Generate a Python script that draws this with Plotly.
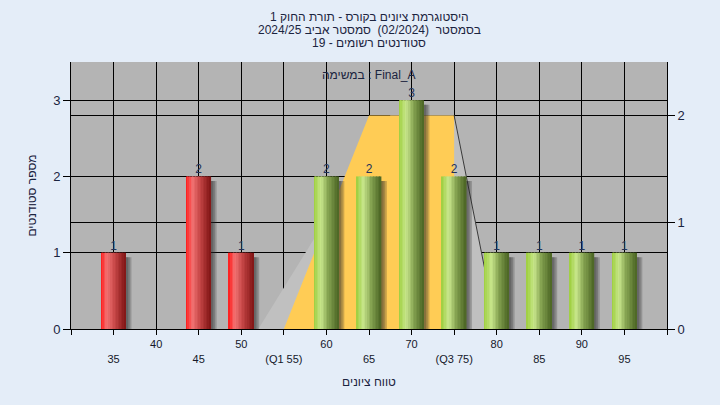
import plotly.graph_objects as go

# ---------------- data ----------------
grades = [35, 45, 50, 60, 65, 70, 75, 80, 85, 90, 95]
counts = [1, 2, 1, 2, 2, 3, 2, 1, 1, 1, 1]
pass_grade = 55

tick_vals = [30, 35, 40, 45, 50, 55, 60, 65, 70, 75, 80, 85, 90, 95, 100]
tick_text = ["", "<br>35", "40", "<br>45", "50", "<br>(Q1 55)", "60", "<br>65",
             "70", "<br>(Q3 75)", "80", "<br>85", "90", "<br>95", ""]

left_ticks = [0, 1, 2, 3]
right_ticks = [0, 1, 2]

# distribution areas (right axis scale)
spread_x = [52, 67.5, 75, 80]
spread_y = [0, 2, 2, 0]
iqr_x = [55, 65, 75, 75]
iqr_y = [0, 2, 2, 0]
edge_x = [75, 80]
edge_y = [2, 0]

title_lines = [
    "היסטוגרמת ציונים בקורס - תורת החוק 1",
    "בסמסטר  (02/2024)  סמסטר אביב 2024/25",
    "סטודנטים רשומים - 19",
]
task_label = "במשימה : Final_A"
x_title = "טווח ציונים"
y_title = "מספר סטודנטים"

# ---------------- style ----------------
FONT = "Liberation Sans, Arial, DejaVu Sans, sans-serif"
TXT = "#1b2440"
BAR_W = 2.9
N_SLICES = 16

red_stops = [(0.0, (255, 22, 22)), (0.25, (242, 116, 116)), (0.55, (200, 72, 72)), (1.0, (128, 20, 20))]
green_stops = [(0.0, (156, 206, 60)), (0.3, (200, 230, 140)), (0.6, (132, 162, 80)), (1.0, (74, 100, 36))]


def interp(stops, t):
    for (t0, c0), (t1, c1) in zip(stops[:-1], stops[1:]):
        if t0 <= t <= t1:
            f = (t - t0) / (t1 - t0)
            c = [round(a + (b - a) * f) for a, b in zip(c0, c1)]
            return "rgb(%d,%d,%d)" % tuple(c)
    return "rgb(%d,%d,%d)" % stops[-1][1]


fig = go.Figure()

# areas on the main (right) axis -> drawn beneath the bars
fig.add_trace(go.Scatter(x=spread_x, y=spread_y, fill="toself", mode="none",
                         fillcolor="#c0c0c0", yaxis="y", hoverinfo="skip", showlegend=False))
fig.add_trace(go.Scatter(x=iqr_x, y=iqr_y, fill="toself", mode="none",
                         fillcolor="#ffcc55", yaxis="y", hoverinfo="skip", showlegend=False))
fig.add_trace(go.Scatter(x=edge_x, y=edge_y, mode="lines", line=dict(color="#3a3a3a", width=1),
                         yaxis="y", hoverinfo="skip", showlegend=False))

# shadows
shadow_y = [c - 0.06 for c in counts]
for s in [0.25, 0.45, 0.65]:
    fig.add_trace(go.Bar(x=grades, y=shadow_y, width=BAR_W, offset=-BAR_W / 2 + s,
                         marker=dict(color="rgba(40,40,40,0.24)", line=dict(width=0)),
                         yaxis="y2", hoverinfo="skip", showlegend=False))

# gradient bars made from vertical slices
sw = BAR_W / N_SLICES
for i in range(N_SLICES):
    t = (i + 0.5) / N_SLICES
    cols = [interp(red_stops, t) if g < pass_grade else interp(green_stops, t) for g in grades]
    fig.add_trace(go.Bar(x=grades, y=counts, width=sw * 1.02, offset=-BAR_W / 2 + i * sw,
                         marker=dict(color=cols, line=dict(width=0)),
                         yaxis="y2", hoverinfo="skip", showlegend=False))

# value labels
fig.add_trace(go.Scatter(x=grades, y=counts, mode="text", text=[str(c) for c in counts],
                         textposition="top center", marker=dict(size=14),
                         textfont=dict(size=12, color="#22325a", family=FONT),
                         yaxis="y2", hoverinfo="skip", showlegend=False))

annotations = []
for line, shift in zip(title_lines, [45, 32, 19]):
    annotations.append(dict(text=line, x=0.5, y=1, xref="paper", yref="paper",
                            xanchor="center", yanchor="middle", yshift=shift, showarrow=False,
                            font=dict(size=12, color=TXT, family=FONT)))
annotations.append(dict(text=task_label, x=0.5, y=1, xref="paper", yref="paper",
                        xanchor="center", yanchor="middle", yshift=-13, showarrow=False,
                        font=dict(size=12, color=TXT, family=FONT)))

fig.update_layout(
    width=720, height=405,
    margin=dict(l=71, r=53, t=62, b=76, autoexpand=False),
    paper_bgcolor="#e4edf8",
    plot_bgcolor="#b4b4b4",
    barmode="overlay",
    showlegend=False,
    font=dict(family=FONT, color=TXT),
    annotations=annotations,
    xaxis=dict(range=[30, 100], tickvals=tick_vals, ticktext=tick_text, ticks="outside",
               ticklen=5, tickcolor="black", showline=True, linecolor="black", linewidth=1,
               showgrid=True, gridcolor="black", gridwidth=1, zeroline=False, automargin=False,
               tickfont=dict(size=11, color="#15182a"),
               title=dict(text=x_title, font=dict(size=12, color=TXT), standoff=14)),
    yaxis=dict(side="right", range=[0, 2.5], tickvals=right_ticks, ticks="outside", ticklen=7,
               tickcolor="black", showline=True, linecolor="black", showgrid=True,
               gridcolor="black", gridwidth=1, zeroline=False, automargin=False,
               tickfont=dict(size=13, color=TXT)),
    yaxis2=dict(overlaying="y", side="left", range=[0, 3.5], tickvals=left_ticks, ticks="outside",
                ticklen=7, tickcolor="black", showline=True, linecolor="black", showgrid=True,
                gridcolor="black", gridwidth=1, zeroline=False, automargin=False,
                tickfont=dict(size=13, color=TXT),
                title=dict(text=y_title, font=dict(size=12, color=TXT), standoff=13)),
)

fig.write_html("out.html", config={"displayModeBar": False},
               post_script="document.body.style.margin='0';document.body.style.padding='0';")
